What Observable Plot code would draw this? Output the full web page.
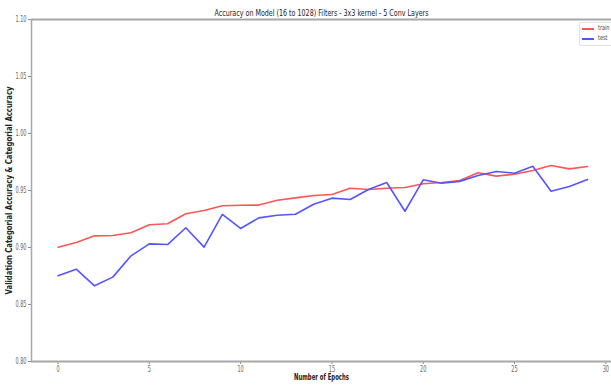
<!DOCTYPE html>
<html><head><meta charset="utf-8">
<script src="https://cdn.jsdelivr.net/npm/d3@7"></script>
<script src="https://cdn.jsdelivr.net/npm/@observablehq/plot@0.6"></script>
<style>
html,body{margin:0;padding:0;background:#fff;}
#wrap{position:relative;width:611px;height:386px;overflow:hidden;}
#legend{position:absolute;left:579px;top:22px;width:44px;height:22px;border:1px solid #e2e2e2;border-radius:2px;background:#fff;font-family:"DejaVu Sans",sans-serif;font-size:7px;color:#444;}
#legend .row{position:absolute;left:2px;height:8px;}
#legend .sw{position:absolute;left:0;top:3px;width:12px;height:1.6px;}
#legend .lb{position:absolute;left:16px;top:-1px;transform:scaleX(0.7);transform-origin:left;}
</style>
</head><body>
<div id="wrap"><div id="chart"></div>
<div id="legend">
<div class="row" style="top:2px"><div class="sw" style="background:#ff5555"></div><div class="lb">train</div></div>
<div class="row" style="top:12px"><div class="sw" style="background:#5555ff"></div><div class="lb">test</div></div>
</div></div>
<script>
const epochs = d3.range(0, 30);
const train = [0.9003, 0.9044, 0.9102, 0.9105, 0.9129, 0.9200, 0.9208, 0.9296, 0.9325, 0.9366,
  0.9371, 0.9372, 0.9415, 0.9435, 0.9456, 0.9465, 0.9520, 0.9509, 0.9520, 0.9526,
  0.9559, 0.9570, 0.9588, 0.9655, 0.9626, 0.9643, 0.9675, 0.9720, 0.9690, 0.9710];
const test = [0.8752, 0.8810, 0.8664, 0.8740, 0.8927, 0.9032, 0.9026, 0.9173, 0.9003, 0.9290,
  0.9167, 0.9260, 0.9283, 0.9292, 0.9380, 0.9433, 0.9421, 0.9509, 0.9570, 0.9318,
  0.9594, 0.9564, 0.9580, 0.9632, 0.9667, 0.9652, 0.9713, 0.9494, 0.9535, 0.9597];
const xTicks = [0, 5, 10, 15, 20, 25, 30];
const yTicks = [0.80, 0.85, 0.90, 0.95, 1.00, 1.05, 1.10];
const titleText = "Accuracy on Model (16 to 1028) Filters - 3x3 kernel - 5 Conv Layers";
const xLabel = "Number of Epochs";
const yLabel = "Validation Categorial Accuracy & Categorial Accuracy";

const rows = epochs.flatMap(e => [
  {epoch: e, value: train[e], series: "train"},
  {epoch: e, value: test[e], series: "test"}
]);
const xMin = -1.45, yMin = 0.80, yMax = 1.10;

const chart = Plot.plot({
  width: 611, height: 386,
  marginLeft: 31, marginRight: 0, marginTop: 19, marginBottom: 25,
  style: {fontFamily: "DejaVu Sans, sans-serif", fontSize: "8px", color: "#555", background: "#fff"},
  x: {domain: [xMin, 30.31]},
  y: {domain: [yMin, yMax]},
  color: {domain: ["train", "test"], range: ["#ff5555", "#5555ff"]},
  marks: [
    Plot.axisX({ticks: xTicks, tickSize: 3, tickPadding: 2, label: null, stroke: "#888", fill: "#666"}),
    Plot.axisY({ticks: yTicks, tickSize: 3, tickPadding: 2, tickFormat: d3.format(".2f"), label: null, stroke: "#888", fill: "#666"}),
    Plot.line(rows, {x: "epoch", y: "value", z: "series", stroke: "series", strokeWidth: 1.6}),
    Plot.ruleY([yMin, yMax], {stroke: "#a8a8a8", strokeWidth: 2}),
    Plot.ruleX([xMin], {stroke: "#a8a8a8", strokeWidth: 1.5}),
    Plot.text([titleText], {frameAnchor: "top", lineAnchor: "bottom", dy: -4, fill: "#222", fontSize: 9.5, className: "ttl"}),
    Plot.text([xLabel], {frameAnchor: "bottom", lineAnchor: "top", dy: 13, fill: "#222", fontSize: 8, fontWeight: "bold", className: "xl"}),
    Plot.text([yLabel], {frameAnchor: "left", rotate: -90, dx: -22, fill: "#222", fontSize: 8, fontWeight: "bold", className: "yl"})
  ]
});
document.getElementById("chart").appendChild(chart);

function fit(sel, len) {
  chart.querySelectorAll(sel).forEach(t => {
    const x0 = +(t.getAttribute("x") || 0);
    t.setAttribute("text-anchor", "start");
    t.style.textAnchor = "start";
    t.setAttribute("x", x0 - len / 2);
    t.setAttribute("textLength", len);
    t.setAttribute("lengthAdjust", "spacingAndGlyphs");
  });
  chart.querySelectorAll(sel.split(" ")[0]).forEach(g => g.setAttribute("text-anchor", "start"));
}
fit(".ttl text", 214);
fit(".xl text", 55);
fit(".yl text", 208);
chart.querySelectorAll("g[aria-label='x-axis tick label'] text, g[aria-label='y-axis tick label'] text").forEach(t => {
  const w = t.getComputedTextLength();
  t.setAttribute("textLength", w * 0.62);
  t.setAttribute("lengthAdjust", "spacingAndGlyphs");
});
</script>
</body></html>
